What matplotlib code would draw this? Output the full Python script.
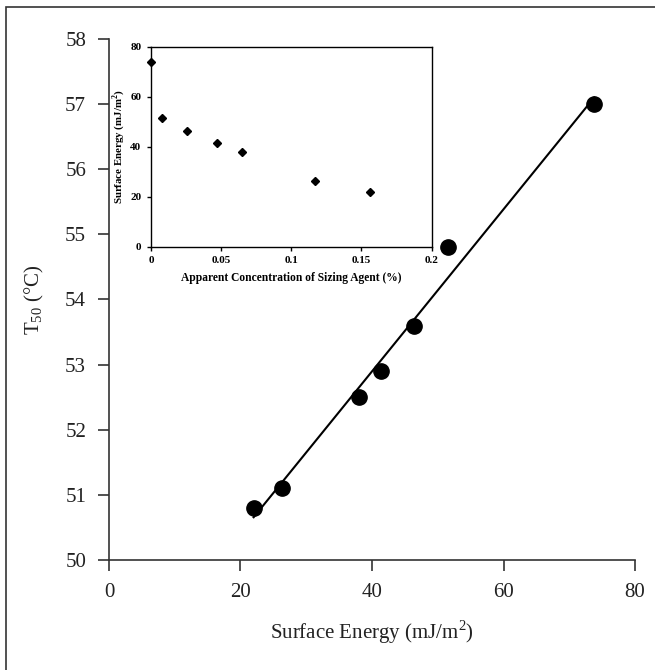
import matplotlib
matplotlib.use("Agg")
import matplotlib.pyplot as plt
import numpy as np
from matplotlib.patches import Rectangle

# surface energy (mJ/m2) vs T50 (C)
surface_energy = [22.0, 26.3, 38.0, 41.4, 46.4, 51.6, 73.8]
t50 = [50.8, 51.1, 52.5, 52.9, 53.6, 54.8, 57.0]

# inset: sizing agent concentration (%) vs surface energy
sizing_conc = [0.0, 0.008, 0.026, 0.047, 0.065, 0.117, 0.156]
inset_energy = [73.8, 51.6, 46.4, 41.4, 38.0, 26.3, 22.0]

x_ticks = [0, 20, 40, 60, 80]
y_ticks = [50, 51, 52, 53, 54, 55, 56, 57, 58]
inset_x_ticks = [0, 0.05, 0.1, 0.15, 0.2]
inset_x_labels = ["0", "0.05", "0.1", "0.15", "0.2"]
inset_y_ticks = [0, 20, 40, 60, 80]


def main() -> None:
    plt.rcParams["font.family"] = ["Liberation Serif", "DejaVu Serif"]
    plt.rcParams["mathtext.fontset"] = "custom"
    plt.rcParams["mathtext.rm"] = "Liberation Serif"
    plt.rcParams["mathtext.bf"] = "Liberation Serif:bold"

    fig = plt.figure(figsize=(6.55, 6.70), dpi=100)
    fig.patches.append(Rectangle((6 / 655, -0.1), 1.2, 1.1 - 7 / 670, transform=fig.transFigure,
                                 fill=False, edgecolor="#333333", linewidth=1.2))

    ax = fig.add_axes([0.1664, 0.1642, 0.8031, 0.7776])
    ax.plot(surface_energy, t50, "o", color="black", markersize=11, zorder=3, clip_on=False)
    slope, intercept = np.polyfit(surface_energy, t50, 1)
    xs = np.array([min(surface_energy), max(surface_energy)])
    ax.plot(xs, slope * xs + intercept, color="black", linewidth=1.5, zorder=2)

    ax.set_xlim(0, 80)
    ax.set_ylim(50, 58)
    ax.set_xticks(x_ticks)
    ax.set_yticks(y_ticks)
    for side in ("top", "right"):
        ax.spines[side].set_visible(False)
    for side in ("left", "bottom"):
        ax.spines[side].set_color("#333333")
        ax.spines[side].set_linewidth(1.2)
    ax.tick_params(direction="out", length=8, width=1.2, color="#333333",
                   labelsize=15, labelcolor="#222222", pad=8.5)
    ax.set_xlabel("Surface Energy (mJ/m$^\\mathrm{2}$)", fontsize=15, color="#222222", labelpad=12)
    ax.set_ylabel("T$_\\mathrm{50}$ (°C)", fontsize=15, color="#222222", labelpad=14)

    inset = fig.add_axes([0.2305, 0.6318, 0.4285, 0.2985])
    inset.set_facecolor("white")
    inset.plot(sizing_conc, inset_energy, "D", color="black", markersize=4.5, clip_on=False)
    inset.set_xlim(0, 0.2)
    inset.set_ylim(0, 80)
    inset.set_xticks(inset_x_ticks)
    inset.set_xticklabels(inset_x_labels)
    inset.set_yticks(inset_y_ticks)
    for sp in inset.spines.values():
        sp.set_linewidth(1.0)
    inset.tick_params(direction="out", length=3, width=1.0, labelsize=8, pad=4)
    for lbl in inset.get_xticklabels() + inset.get_yticklabels():
        lbl.set_fontweight("bold")
    inset.set_xlabel("Apparent Concentration of Sizing Agent (%)", fontsize=8.3,
                     fontweight="bold", labelpad=5)
    inset.set_ylabel("Surface Energy (mJ/m$^\\mathbf{2}$)", fontsize=7.8,
                     fontweight="bold", labelpad=2)

    fig.savefig("out.png", dpi=100)


if __name__ == "__main__":
    main()
